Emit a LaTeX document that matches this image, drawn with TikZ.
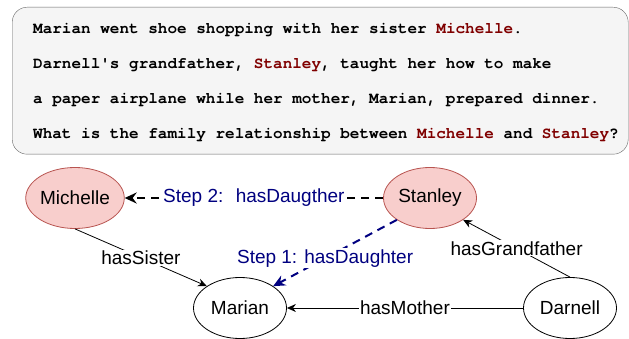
\documentclass[tikz,border=0pt]{standalone}
\usepackage{fontspec}
\setmainfont{Liberation Sans}
\setmonofont{TeX Gyre Cursor}
\usetikzlibrary{shapes.geometric,arrows.meta}
\definecolor{boxgray}{HTML}{F5F5F5}
\definecolor{boxline}{HTML}{666666}
\definecolor{namered}{RGB}{128,0,0}
\definecolor{pinkfill}{HTML}{F8CECC}
\definecolor{pinkline}{HTML}{B85450}
\definecolor{stepblue}{RGB}{0,0,128}
\newcommand{\who}[1]{\textcolor{namered}{#1}}

\begin{document}
\begin{tikzpicture}[x=1pt, y=-1pt,
    person/.style={ellipse, draw, line width=0.8pt, minimum width=93pt,
      minimum height=61pt, inner sep=0pt, font=\fontsize{19}{22}\selectfont},
    asked/.style={person, draw=pinkline, fill=pinkfill},
    relation/.style={draw, line width=0.8pt, -{Stealth[length=9pt,width=8pt]}},
    reasoning/.style={draw, line width=2pt, dash pattern=on 8pt off 6pt,
      -{Stealth[length=12pt,width=11pt,inset=4pt]}},
    tag/.style={fill=white, inner sep=1pt, font=\fontsize{19}{22}\selectfont}]

    \useasboundingbox (0,0) rectangle (629,339);

    \node[draw=boxline, fill=boxgray, rounded corners=15pt, anchor=north west,
      minimum width=616pt, minimum height=147pt] (story) at (12,7) {};
    \node[anchor=west, inner sep=0pt, align=left,
      font=\ttfamily\bfseries\fontsize{16}{35}\selectfont] (question)
      at ([xshift=21pt, yshift=-2pt]story.west)
      {Marian went shoe shopping with her sister \who{Michelle}.\\
       Darnell's grandfather, \who{Stanley}, taught her how to make\\
       a paper airplane while her mother, Marian, prepared dinner.\\
       What is the family relationship between \who{Michelle} and \who{Stanley}?};

    \node[asked] (michelle) at (75,198) {Michelle};
    \node[asked] (stanley) at (430,198) {Stanley};
    \node[person] (marian) at (240,308) {Marian};
    \node[person] (darnell) at (570,308) {Darnell};

    \draw[relation] (michelle.south) -- node[tag]{hasSister} (marian.north west);
    \draw[relation] (darnell.north) -- node[tag]{hasGrandfather} (stanley.south east);
    \draw[relation] (darnell.west) -- node[tag]{hasMother} (marian.east);

    \draw[reasoning, stepblue] (stanley.south west) --
      node[tag, pos=0.58]{Step 1: hasDaughter} (marian.north east);
    \draw[reasoning] (stanley.west) --
      node[tag, text=stepblue]{Step 2: \ hasDaugther} (michelle.east);

  \end{tikzpicture}
\end{document}
